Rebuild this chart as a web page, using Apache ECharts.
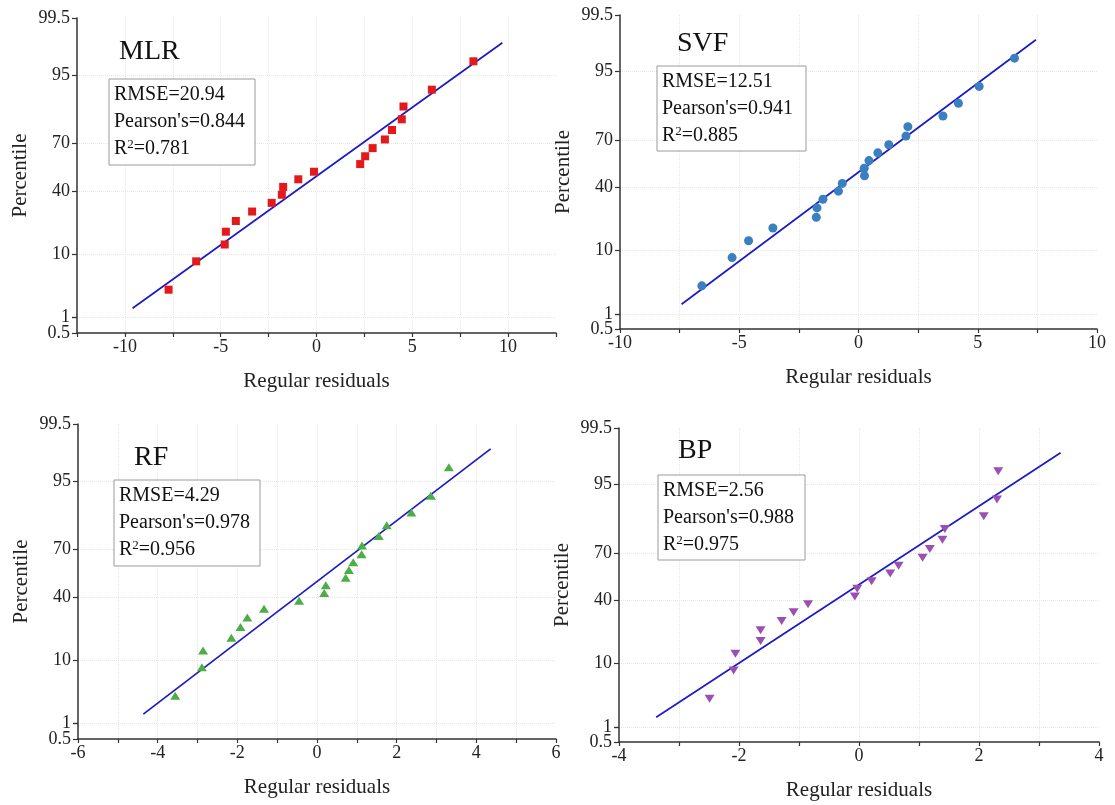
<!DOCTYPE html>
<html><head><meta charset="utf-8">
<script src="https://cdn.jsdelivr.net/npm/echarts@6/dist/echarts.min.js"></script>
<style>html,body{margin:0;padding:0;background:#fff}#c{width:1115px;height:805px}</style>
</head><body><div id="c"></div>
<script>
// ---- data ----
const percentTickLabels = [0.5, 1, 10, 40, 70, 95, 99.5];
const percentiles = [3.09, 8.02, 12.96, 17.90, 22.84, 27.78, 32.72, 37.65, 42.59, 47.53,
                     52.47, 57.41, 62.35, 67.28, 72.22, 77.16, 82.10, 87.04, 91.98, 96.91];
const mlrResiduals = [-7.72, -6.28, -4.79, -4.73, -4.21, -3.36, -2.34, -1.81, -1.74, -0.95,
                      -0.13, 2.28, 2.54, 2.93, 3.57, 3.94, 4.45, 4.54, 6.02, 8.19];
const svfResiduals = [-6.57, -5.30, -4.61, -3.59, -1.77, -1.74, -1.49, -0.84, -0.68, 0.25,
                      0.24, 0.44, 0.81, 1.27, 1.99, 2.07, 3.54, 4.19, 5.06, 6.54];
const rfResiduals  = [-3.56, -2.89, -2.86, -2.15, -1.92, -1.75, -1.33, -0.45, 0.18, 0.22,
                      0.72, 0.80, 0.91, 1.12, 1.13, 1.55, 1.75, 2.37, 2.86, 3.31];
const bpResiduals  = [-2.49, -2.09, -2.06, -1.64, -1.64, -1.29, -1.09, -0.85, -0.07, -0.03,
                      0.21, 0.52, 0.66, 1.06, 1.18, 1.39, 1.43, 2.08, 2.30, 2.32];
const fitLinePercentiles = [1.5, 98.5];
const mlrFitX = [-9.6, 9.7];
const svfFitX = [-7.42, 7.44];
const rfFitX  = [-4.36, 4.36];
const bpFitX  = [-3.38, 3.36];
const modelNames = ['MLR', 'SVF', 'RF', 'BP'];
const rmseValues = ['20.94', '12.51', '4.29', '2.56'];
const pearsonValues = ['0.844', '0.941', '0.978', '0.988'];
const r2Values = ['0.781', '0.885', '0.956', '0.975'];
const xRanges = [[-12.5, 12.5, 2.5, 5], [-10, 10, 2.5, 5], [-6, 6, 1, 2], [-4, 4, 1, 2]];

// inverse standard normal CDF (probability-scale transform)
function invNorm(p){
 const a=[-3.969683028665376e+01,2.209460984245205e+02,-2.759285104469687e+02,1.383577518672690e+02,-3.066479806614716e+01,2.506628277459239e+00];
 const b=[-5.447609879822406e+01,1.615858368580409e+02,-1.556989798598866e+02,6.680131188771972e+01,-1.328068155288572e+01];
 const c=[-7.784894002430293e-03,-3.223964580411365e-01,-2.400758277161838e+00,-2.549732539343734e+00,4.374664141464968e+00,2.938163982698783e+00];
 const d=[7.784695709041462e-03,3.224671290700398e-01,2.445134137142996e+00,3.754408661907416e+00];
 const pl=0.02425, ph=1-pl; let q,r;
 if(p<pl){q=Math.sqrt(-2*Math.log(p));return (((((c[0]*q+c[1])*q+c[2])*q+c[3])*q+c[4])*q+c[5])/((((d[0]*q+d[1])*q+d[2])*q+d[3])*q+1);}
 if(p<=ph){q=p-0.5;r=q*q;return (((((a[0]*r+a[1])*r+a[2])*r+a[3])*r+a[4])*r+a[5])*q/(((((b[0]*r+b[1])*r+b[2])*r+b[3])*r+b[4])*r+1);}
 q=Math.sqrt(-2*Math.log(1-p));return -(((((c[0]*q+c[1])*q+c[2])*q+c[3])*q+c[4])*q+c[5])/((((d[0]*q+d[1])*q+d[2])*q+d[3])*q+1);
}
const zTicks = percentTickLabels.map(p => invNorm(p/100));
const yMin = zTicks[0], yMax = zTicks[zTicks.length-1];
// the "1" label sits right above "0.5"; it goes on a companion axis so both stay visible
const crowdedIdx = 1;
const mainLabelZ = zTicks.filter((z, k) => k !== crowdedIdx);
const extraLabelZ = [zTicks[crowdedIdx]];
function pctLabel(v) {
  for (let k = 0; k < zTicks.length; k++) if (Math.abs(zTicks[k] - v) < 1e-6) return String(percentTickLabels[k]);
  return '';
}

const FONT = '"Liberation Serif", "Times New Roman", serif';
const grids = [
  {left: 77, top: 18, width: 479, height: 315},
  {left: 620, top: 15, width: 477, height: 314},
  {left: 78, top: 424, width: 478, height: 315},
  {left: 619, top: 428, width: 480, height: 314}
];
const residualSets = [mlrResiduals, svfResiduals, rfResiduals, bpResiduals];
const fitSets = [mlrFitX, svfFitX, rfFitX, bpFitX];
const markerColors = ['#e3191c', '#3a7fc1', '#4dae47', '#9b4fb5'];
const symbols = ['rect', 'circle', 'triangle', 'triangle'];
const symbolRot = [0, 0, 0, 180];
const symbolSizes = [[8,8], 9, [10,8], [10,8]];
const nameBoxes = [
  {name: [119, 38], box: [109, 79, 146, 86]},
  {name: [677, 30], box: [657, 66, 149, 85]},
  {name: [134, 444], box: [114, 480, 146, 86]},
  {name: [678, 437], box: [658, 475, 147, 85]}
];

const xAxes = [], yAxes = [], series = [], graphic = [];
for (let i = 0; i < 4; i++) {
  const [mn, mx, step, lab] = xRanges[i];
  xAxes.push({
    gridIndex: i, type: 'value', min: mn, max: mx, interval: step,
    name: 'Regular residuals', nameLocation: 'middle', nameGap: 38,
    nameTextStyle: {fontFamily: FONT, fontSize: 21, color: '#222'},
    axisLine: {show: true, onZero: false, lineStyle: {color: '#333', width: 1.5}},
    axisTick: {show: true, length: 4, lineStyle: {color: '#333', width: 1.2}},
    axisLabel: {margin: 5, fontFamily: FONT, fontSize: 18, color: '#222', showMinLabel: true, showMaxLabel: true, hideOverlap: false,
      formatter: v => (Math.abs(v / lab - Math.round(v / lab)) < 1e-6 ? String(Math.round(v)) : '')},
    splitLine: {show: true, showMinLine: false, showMaxLine: false, lineStyle: {color: '#e6e6e6', type: 'dotted', width: 1}}
  });
}
for (let i = 0; i < 4; i++) {
  yAxes.push({
    gridIndex: i, type: 'value', min: yMin, max: yMax, position: 'left',
    name: 'Percentile', nameLocation: 'middle', nameGap: 46,
    nameTextStyle: {fontFamily: FONT, fontSize: 21, color: '#222'},
    axisLine: {show: true, onZero: false, lineStyle: {color: '#333', width: 1.5}},
    axisTick: {show: true, length: 5, customValues: zTicks, lineStyle: {color: '#333', width: 1.2}},
    axisLabel: {margin: 7, fontFamily: FONT, fontSize: 18, color: '#222', customValues: mainLabelZ,
      showMinLabel: true, showMaxLabel: true, hideOverlap: false, formatter: pctLabel},
    splitLine: {show: true, showMinLine: false, showMaxLine: false, lineStyle: {color: '#e6e6e6', type: 'dotted', width: 1}}
  });
}
for (let i = 0; i < 4; i++) {
  yAxes.push({
    gridIndex: i, type: 'value', min: yMin, max: yMax, position: 'left', offset: 0,
    axisLine: {show: false, onZero: false}, splitLine: {show: false},
    axisTick: {show: true, length: 5, customValues: extraLabelZ, lineStyle: {color: '#333', width: 1.2}},
    axisLabel: {margin: 7, fontFamily: FONT, fontSize: 18, color: '#222', customValues: extraLabelZ,
      showMinLabel: true, showMaxLabel: true, hideOverlap: false, formatter: pctLabel}
  });
}
for (let i = 0; i < 4; i++) {
  series.push({
    type: 'line', xAxisIndex: i, yAxisIndex: i, symbol: 'none', z: 2,
    lineStyle: {color: '#1a1ac8', width: 1.7},
    data: fitSets[i].map((x, k) => [x, invNorm(fitLinePercentiles[k] / 100)])
  });
  series.push({
    type: 'scatter', xAxisIndex: i, yAxisIndex: i, z: 3,
    symbol: symbols[i], symbolRotate: symbolRot[i], symbolSize: symbolSizes[i],
    itemStyle: {color: markerColors[i], opacity: 1},
    data: residualSets[i].map((x, k) => [x, invNorm(percentiles[k] / 100)])
  });
  const nb = nameBoxes[i];
  graphic.push({type: 'text', left: nb.name[0], top: nb.name[1], z: 10,
    style: {text: modelNames[i], font: '28px ' + FONT, fill: '#111'}});
  graphic.push({type: 'rect', z: 10, shape: {x: nb.box[0], y: nb.box[1], width: nb.box[2], height: nb.box[3]},
    style: {fill: '#fff', stroke: '#9a9a9a', lineWidth: 1}});
  graphic.push({type: 'text', z: 11, x: nb.box[0] + 5, y: nb.box[1] + 2,
    style: {
      text: '{t|RMSE=' + rmseValues[i] + '}\n{t|Pearson\'s=' + pearsonValues[i] + '}\n{t|R}{s|2}{t|=' + r2Values[i] + '}',
      rich: {
        t: {fontFamily: FONT, fontSize: 20, lineHeight: 27, fill: '#111'},
        s: {fontFamily: FONT, fontSize: 13, lineHeight: 27, verticalAlign: 'top', fill: '#111', padding: [3, 0, 0, 0]}
      }
    }});
}

const chart = echarts.init(document.getElementById('c'), null, {renderer: 'canvas'});
chart.setOption({
  backgroundColor: '#fff', animation: false,
  grid: grids, xAxis: xAxes, yAxis: yAxes, series: series, graphic: graphic
});
</script></body></html>
